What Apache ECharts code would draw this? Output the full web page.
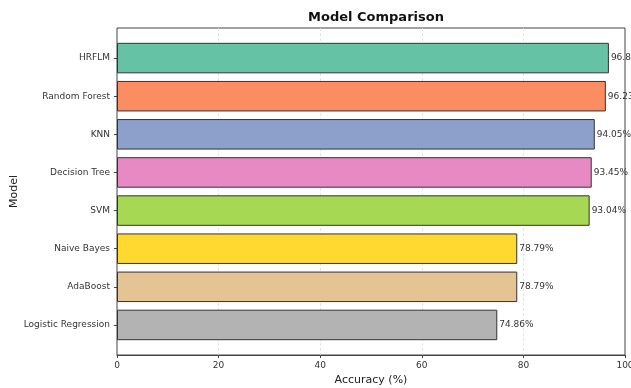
<!DOCTYPE html>
<html>
<head>
<meta charset="utf-8">
<script src="https://cdn.jsdelivr.net/npm/echarts@6/dist/echarts.min.js"></script>
<style>
  html, body { margin: 0; padding: 0; background: #fff; }
  #chart { width: 631px; height: 388px; }
</style>
</head>
<body>
<div id="chart"></div>
<script>
// Models, listed top to bottom
const models = ['HRFLM', 'Random Forest', 'KNN', 'Decision Tree', 'SVM', 'Naive Bayes', 'AdaBoost', 'Logistic Regression'];
// Accuracy (%) per model
const accuracy = [96.83, 96.23, 94.05, 93.45, 93.04, 78.79, 78.79, 74.86];
// Bar fill colours (Set2 palette)
const colors = ['#66c2a5', '#fc8d62', '#8da0cb', '#e78ac3', '#a6d854', '#ffd92f', '#e5c494', '#b3b3b3'];
const xTicks = [0, 20, 40, 60, 80, 100];

const font = 'DejaVu Sans';
const xMin = xTicks[0], xMax = xTicks[xTicks.length - 1];
const chart = echarts.init(document.getElementById('chart'), null, { renderer: 'canvas' });

chart.setOption({
  animation: false,
  backgroundColor: '#fff',
  title: {
    text: 'Model Comparison',
    left: 371, top: 6, textAlign: 'center',
    textStyle: { fontFamily: font, fontWeight: 'bold', fontSize: 13, color: '#111' }
  },
  grid: [
    // outer frame with the value axis, padded beyond the outermost bars
    { left: 117, right: 6, top: 28, bottom: 33, outerBoundsMode: 'none', containLabel: false,
      show: true, borderColor: '#444', borderWidth: 1, backgroundColor: 'transparent' },
    // inner area holding the category bands
    { left: 117, right: 6, top: 39, bottom: 44, outerBoundsMode: 'none', containLabel: false }
  ],
  xAxis: [
    {
      gridIndex: 0, type: 'value', min: xMin, max: xMax, interval: 20,
      name: 'Accuracy (%)', nameLocation: 'middle', nameGap: 20,
      nameTextStyle: { fontFamily: font, fontSize: 11, color: '#222' },
      axisLine: { show: true, lineStyle: { color: '#444' } },
      axisTick: { show: true, length: 3, lineStyle: { color: '#444' } },
      axisLabel: { fontFamily: font, fontSize: 9, color: '#333', margin: 6 },
      splitLine: { show: true, showMinLine: false, showMaxLine: false,
        lineStyle: { color: '#ddd', type: [3, 2], width: 0.8 } }
    },
    {
      gridIndex: 1, type: 'value', min: xMin, max: xMax, show: false,
      splitLine: { show: false }
    }
  ],
  yAxis: [
    {
      // carries only the axis title, centred on the frame
      gridIndex: 0, type: 'value', min: 0, max: 1,
      name: 'Model', nameLocation: 'middle', nameGap: 97, nameRotate: 90,
      nameTextStyle: { fontFamily: font, fontSize: 11, color: '#222' },
      axisLine: { show: false }, axisTick: { show: false },
      axisLabel: { show: false }, splitLine: { show: false }
    },
    {
      gridIndex: 1, type: 'category', data: models, inverse: true,
      axisLine: { show: false },
      axisTick: { show: true, alignWithLabel: true, length: 3, lineStyle: { color: '#444' } },
      axisLabel: { fontFamily: font, fontSize: 9, color: '#333', margin: 7 },
      splitLine: { show: false }
    }
  ],
  series: [{
    type: 'bar', xAxisIndex: 1, yAxisIndex: 1,
    data: accuracy.map((v, i) => ({ value: v, itemStyle: { color: colors[i] } })),
    barWidth: '80%',
    itemStyle: { borderColor: '#333', borderWidth: 1 },
    label: {
      show: true, position: 'right', distance: 2,
      fontFamily: font, fontSize: 9, color: '#333',
      formatter: p => p.value.toFixed(2) + '%'
    }
  }]
});
</script>
</body>
</html>
